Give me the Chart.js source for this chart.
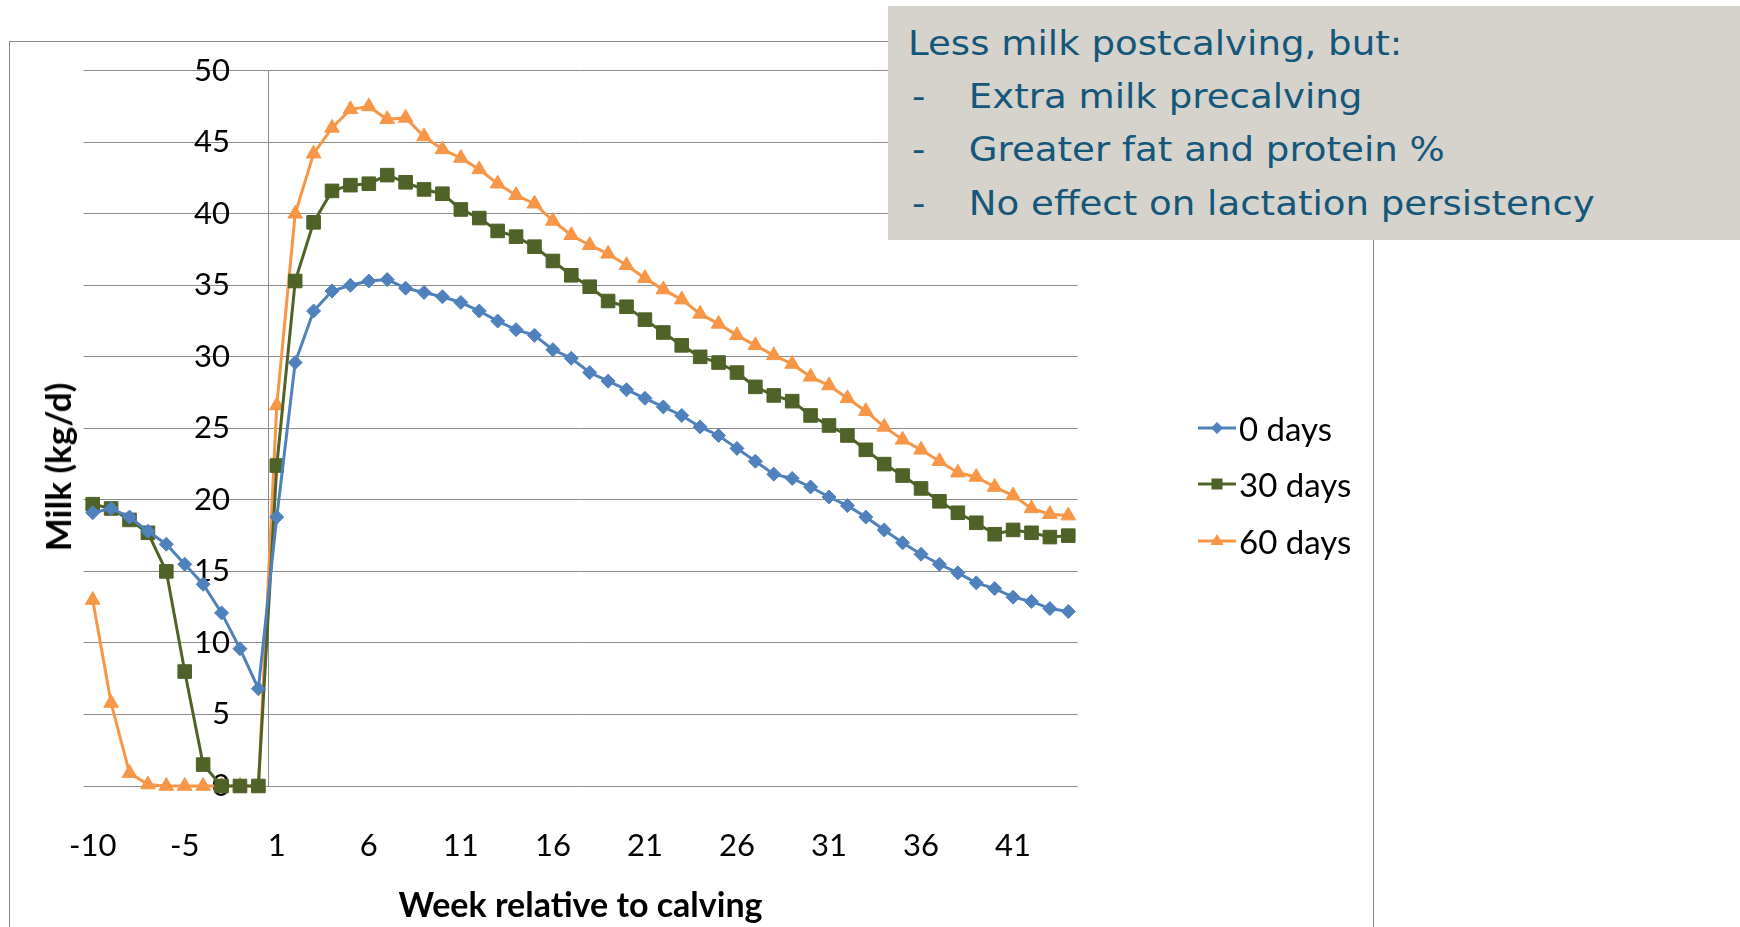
<!DOCTYPE html>
<html>
<head>
<meta charset="utf-8">
<script src="https://cdn.jsdelivr.net/npm/chart.js@4/dist/chart.umd.min.js"></script>
<style>
  body { margin: 0; background: #fff; }
  #wrap { position: relative; width: 1740px; height: 927px; overflow: hidden; }
  #frame { position: absolute; left: 9px; top: 41px; width: 1363px; height: 1000px; border: 1px solid #8a8a8a; }
  #chart { position: absolute; left: 0; top: 0; }
  #ytitle { position: absolute; left: 57px; top: 467px; transform: translate(-50%, -50%) rotate(-90deg);
    font: bold 35px Lato, sans-serif; color: #000; white-space: nowrap; }
  #legend { position: absolute; left: 1198px; top: 399.4px; font: 33px Lato, sans-serif; color: #000; }
  #legend .item { height: 56.7px; display: flex; align-items: center; }
  #legend svg { margin-right: 3px; }
  #note { position: absolute; left: 888px; top: 5.5px; width: 852px; height: 234.5px; background: #d5d3cb; }
  #note .txt { position: absolute; left: 20px; top: 11.4px; transform: scaleX(1.125); transform-origin: 0 0;
    font: 33px "DejaVu Sans", sans-serif; line-height: 53.3px; color: #15577a; white-space: nowrap; }
  #note .dash { display: inline-block; width: 54px; padding-left: 3.6px; box-sizing: border-box; }
</style>
</head>
<body>
<div id="wrap">
  <div id="frame"></div>
  <canvas id="chart" width="1740" height="927"></canvas>
  <div id="ytitle">Milk (kg/d)</div>
  <div id="legend"></div>
  <div id="note">
    <div class="txt">
      <div>Less milk postcalving, but:</div>
      <div><span class="dash">-</span>Extra milk precalving</div>
      <div><span class="dash">-</span>Greater fat and protein %</div>
      <div><span class="dash">-</span>No effect on lactation persistency</div>
    </div>
  </div>
</div>
<script>
// weeks relative to calving (there is no week 0)
const weeks = [-10, -9, -8, -7, -6, -5, -4, -3, -2, -1,
  1, 2, 3, 4, 5, 6, 7, 8, 9, 10, 11, 12, 13, 14, 15, 16, 17, 18, 19, 20, 21, 22,
  23, 24, 25, 26, 27, 28, 29, 30, 31, 32, 33, 34, 35, 36, 37, 38, 39, 40, 41, 42, 43, 44];

const seriesNames = ['0 days', '30 days', '60 days'];

const days0 = [19.1, 19.4, 18.8, 17.8, 16.9, 15.5, 14.1, 12.1, 9.6, 6.8,
  18.8, 29.6, 33.2, 34.6, 35.0, 35.3, 35.4, 34.8, 34.5, 34.2, 33.8, 33.2, 32.5, 31.9,
  31.5, 30.5, 29.9, 28.9, 28.3, 27.7, 27.1, 26.5, 25.9, 25.1, 24.5, 23.6, 22.7, 21.8,
  21.5, 20.9, 20.2, 19.6, 18.8, 17.9, 17.0, 16.2, 15.5, 14.9, 14.2, 13.8, 13.2, 12.9,
  12.4, 12.2];

const days30 = [19.7, 19.4, 18.6, 17.7, 15.0, 8.0, 1.5, 0, 0, 0,
  22.4, 35.3, 39.4, 41.6, 42.0, 42.1, 42.7, 42.2, 41.7, 41.4, 40.3, 39.7, 38.8, 38.4,
  37.7, 36.7, 35.7, 34.9, 33.9, 33.5, 32.6, 31.7, 30.8, 30.0, 29.6, 28.9, 27.9, 27.3,
  26.9, 25.9, 25.2, 24.5, 23.5, 22.5, 21.7, 20.8, 19.9, 19.1, 18.4, 17.6, 17.9, 17.7,
  17.4, 17.5];

const days60 = [13.0, 5.8, 0.9, 0.1, 0, 0, 0, 0, 0, 0,
  26.6, 40.0, 44.2, 46.0, 47.3, 47.5, 46.6, 46.7, 45.4, 44.5, 43.9, 43.1, 42.1, 41.3,
  40.7, 39.5, 38.5, 37.8, 37.2, 36.4, 35.5, 34.7, 34.0, 33.0, 32.3, 31.5, 30.8, 30.1,
  29.5, 28.6, 28.0, 27.1, 26.2, 25.1, 24.2, 23.5, 22.7, 21.9, 21.6, 20.9, 20.3, 19.4,
  19.0, 18.9];

const xTicks = [-10, -5, 1, 6, 11, 16, 21, 26, 31, 36, 41];
const yTicks = [0, 5, 10, 15, 20, 25, 30, 35, 40, 45, 50];

const colors = ['#4f81bd', '#4f6228', '#f79646'];
const gridColor = '#8c8c8c';

// points go on a linear axis by index so the value axis can sit between -1 and 1
const toPoints = values => values.map((v, i) => ({ x: i, y: v }));

const makeSet = (label, values, color, style, radius) => ({
  label: label,
  data: toPoints(values),
  borderColor: color,
  backgroundColor: color,
  borderWidth: 3,
  pointStyle: style,
  pointRadius: radius,
  pointHoverRadius: radius,
  pointBorderWidth: 1,
  pointBorderColor: color,
  pointBackgroundColor: color,
  tension: 0,
  clip: false
});

// vertical axis line, drawn between week -1 and week 1
const yAxisLine = {
  id: 'yAxisLine',
  beforeDatasetsDraw(chart) {
    const { ctx, chartArea, scales } = chart;
    const x = Math.round(scales.x.getPixelForValue(9.5)) + 0.5;
    ctx.save();
    ctx.strokeStyle = gridColor;
    ctx.lineWidth = 1;
    ctx.beginPath();
    ctx.moveTo(x, chartArea.top);
    ctx.lineTo(x, chartArea.bottom);
    ctx.stroke();
    ctx.restore();
  }
};

new Chart(document.getElementById('chart'), {
  type: 'line',
  data: {
    datasets: [
      makeSet(seriesNames[0], days0, colors[0], 'rectRot', 7),
      makeSet(seriesNames[1], days30, colors[1], 'rect', 9.6),
      makeSet(seriesNames[2], days60, colors[2], 'triangle', 8.5)
    ]
  },
  options: {
    responsive: false,
    animation: false,
    events: [],
    layout: { padding: { left: 83.5, right: 662.5, top: 70.7, bottom: 0 } },
    plugins: { legend: { display: false }, tooltip: { enabled: false } },
    scales: {
      x: {
        type: 'linear',
        min: -0.5,
        max: weeks.length - 0.5,
        grid: { display: false, drawTicks: false },
        border: { display: false },
        afterBuildTicks: s => { s.ticks = xTicks.map(w => ({ value: weeks.indexOf(w) })); },
        afterFit: s => { s.height = 141; },
        ticks: {
          autoSkip: false,
          maxRotation: 0,
          padding: 41,
          color: '#000',
          font: { family: 'Lato', size: 31 },
          callback: v => weeks[v]
        },
        title: {
          display: true,
          text: 'Week relative to calving',
          color: '#000',
          font: { family: 'Lato', size: 34, weight: 'bold' },
          padding: { top: 0, bottom: 1 }
        }
      },
      y: {
        position: { x: 7.46 },
        min: 0,
        max: 50,
        afterBuildTicks: s => { s.ticks = yTicks.map(v => ({ value: v })); },
        grid: { color: gridColor, lineWidth: 1, drawTicks: false },
        border: { display: false },
        ticks: { color: '#000', font: { family: 'Lato', size: 31 } }
      }
    }
  },
  plugins: [yAxisLine]
});

// legend next to the plot
const marks = [
  '<polygon points="19,4 25,10 19,16 13,10" />',
  '<rect x="13.5" y="4.5" width="11" height="11" />',
  '<polygon points="19,3 25.5,14 12.5,14" />'
];
const legend = document.getElementById('legend');
seriesNames.forEach((name, i) => {
  const item = document.createElement('div');
  item.className = 'item';
  item.innerHTML = '<svg width="38" height="20"><line x1="0" y1="10" x2="38" y2="10" stroke="' + colors[i] +
    '" stroke-width="3"/><g fill="' + colors[i] + '">' + marks[i] + '</g></svg><span>' + name + '</span>';
  legend.appendChild(item);
});
</script>
</body>
</html>
